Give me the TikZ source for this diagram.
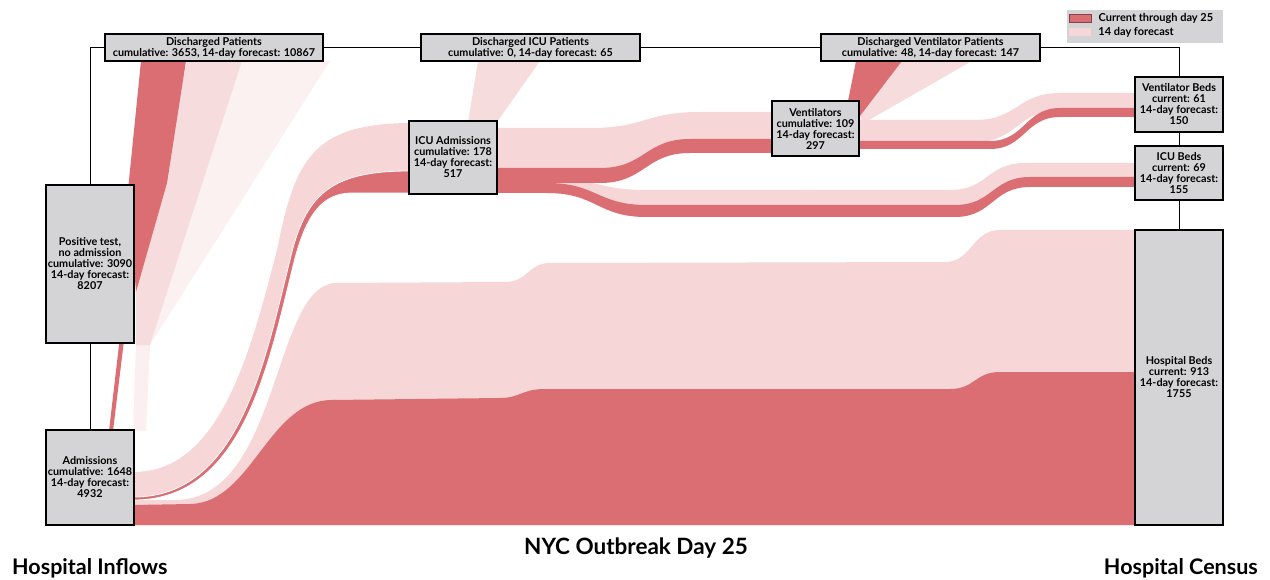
\documentclass[tikz,border=0pt]{standalone}
\usepackage{fontspec}
\setmainfont{Lato}
\usetikzlibrary{positioning,backgrounds}

\definecolor{curred}{RGB}{218,110,115}
\definecolor{fcpink}{RGB}{246,214,215}
\definecolor{boxgray}{RGB}{212,212,214}
\newcommand\lblfont{\fontsize{10.8}{11}\selectfont\bfseries}
\newcommand\legfont{\fontsize{11}{12}\selectfont\bfseries}
\newcommand\band[9]{%
  \fill[#1] (#2,#6) -- (#3,#6)
    .. controls ({(#3+#4)/2},#6) and ({(#3+#4)/2},#8) .. (#4,#8)
    -- (#5,#8) -- (#5,#9) -- (#4,#9)
    .. controls ({(#3+#4)/2},#9) and ({(#3+#4)/2},#7) .. (#3,#7)
    -- (#2,#7) -- cycle;}

\begin{document}
\begin{tikzpicture}[
    x=1pt, y=-1pt,
    box/.style={draw, line width=1.2pt, fill=boxgray, align=center, inner sep=0pt, font=\lblfont},
    cur/.style={fill=curred},
    fc/.style={fill=fcpink},
    link/.style={line width=1pt},
    swatch/.style={minimum width=22, minimum height=8, inner sep=0pt},
    legtext/.style={font=\legfont, inner sep=0pt, anchor=west},
    bigtitle/.style={font=\fontsize{22.5}{25}\selectfont\bfseries, inner sep=0pt},
    sidetitle/.style={font=\fontsize{21.5}{24}\selectfont\bfseries, inner sep=0pt},
]
\useasboundingbox (0,0) rectangle (1270,580);

\node[box, minimum width=88, minimum height=95] (adm) at (90,477.5) {Admissions\\cumulative: 1648\\14-day forecast:\\4932};
\node[box, minimum width=88, minimum height=158] (pos) at (90,264) {Positive test,\\no admission\\cumulative: 3090\\14-day forecast:\\8207};
\node[box, minimum width=218, minimum height=27] (dp) at (214,47.5) {Discharged Patients\\cumulative: 3653, 14-day forecast: 10867};
\node[box, minimum width=219, minimum height=27] (dicu) at (530.5,47.5) {Discharged ICU Patients\\cumulative: 0, 14-day forecast: 65};
\node[box, minimum width=219, minimum height=27] (dvp) at (930.5,47.5) {Discharged Ventilator Patients\\cumulative: 48, 14-day forecast: 147};
\node[box, minimum width=88, minimum height=73] (icu) at (453,157.5) {ICU Admissions\\cumulative: 178\\14-day forecast:\\517};
\node[box, minimum width=87, minimum height=55] (vent) at (815.5,128.5) {Ventilators\\cumulative: 109\\14-day forecast:\\297};
\node[box, minimum width=88, minimum height=55] (vbed) at (1179,104.5) {Ventilator Beds\\current: 61\\14-day forecast:\\150};
\node[box, minimum width=88, minimum height=54] (ibed) at (1179,173) {ICU Beds\\current: 69\\14-day forecast:\\155};
\node[box, minimum width=88, minimum height=295] (hbed) at (1179,377.5) {Hospital Beds\\current: 913\\14-day forecast:\\1755};

\node[fill=boxgray, minimum width=156, minimum height=33, inner sep=0pt] (legend) at (1145,26.5) {};
\node[swatch, fill=curred, draw=curred!60!black, line width=0.8pt] (swcur) at (1080,18) {};
\node[swatch, fill=fcpink] (swfc) at (1080,32) {};
\node[legtext, right=7pt of swcur] (lgcur) {Current through day 25};
\node[legtext, right=7pt of swfc] (lgfc) {14 day forecast};

\draw[link] (pos) -- (adm);
\draw[link] (pos.north) |- (dp.west);
\draw[link] (dp) -- (dicu);
\draw[link] (dicu) -- (dvp);
\draw[link] (dvp.east) -| (vbed.north);
\draw[link] (vbed) -- (ibed);
\draw[link] (ibed) -- (hbed);

\node[bigtitle, anchor=base] (daytitle) at (636,554) {NYC Outbreak Day 25};
\node[sidetitle, anchor=base west] (inflows) at (12,574) {Hospital Inflows};
\node[sidetitle, anchor=base east] (census) at (1258,574) {Hospital Census};

\begin{scope}[on background layer]
    \fill[fc] (134,500) -- (175,500) .. controls (280,500) and (272,287) .. (335,283) -- (505,282) .. controls (528,282) and (528,263) .. (550,263) -- (945,262) .. controls (972,262) and (972,230) .. (1000,230) -- (1135,230) -- (1135,525) -- (134,525) -- cycle;
    \fill[cur] (134,505) -- (190,504) .. controls (252,503) and (268,400) .. (332,400) -- (500,398) .. controls (520,398) and (522,389) .. (545,389) -- (950,389) .. controls (975,389) and (975,372) .. (1000,372) -- (1135,372) -- (1135,525) -- (134,525) -- cycle;
    \fill[fc] (134,472) .. controls (222,472) and (252,345) .. (277,250) .. controls (295,160) and (312,124) .. (409,123) -- (409,171) .. controls (330,171) and (305,195) .. (290,260) .. controls (265,360) and (240,497) .. (134,497) -- cycle;
    \fill[cur, draw=white, line width=0.8pt] (134,497) .. controls (240,497) and (265,360) .. (290,260) .. controls (305,195) and (330,171) .. (409,171) -- (409,193) -- (352,193) .. controls (322,193) and (306,215) .. (294,262) .. controls (269,362) and (244,500) .. (134,500) -- cycle;

    \fill[fc, opacity=0.35] (242,61) -- (330,61) -- (150,345) -- cycle;
    \fill[fc, opacity=0.85] (187,61) -- (242,61) -- (150,345) -- (136,345) -- (136,292) -- cycle;
    \fill[fc, opacity=0.4] (136,345) -- (150,345) -- (146,431) -- (133,431) -- cycle;
    \fill[cur] (141,61) -- (186,61) -- (167,183) -- (136,292) -- (128,190) -- cycle;
    \fill[cur] (109,431) -- (113,431) -- (158,61) -- (152,61) -- cycle;

    \fill[fc, opacity=0.85] (478,61) -- (540,61) -- (497,122) -- (468,122) -- cycle;

    \band{fc}{497}{590}{700}{772}{128}{170}{112}{140}
    \band{fc}{497}{547}{647}{800}{178}{193}{190}{217}
    \band{fc}{800}{950}{1025}{1135}{190}{217}{163}{187}
    \band{cur}{497}{600}{690}{772}{168}{183}{139}{153}
    \band{cur}{497}{547}{647}{800}{183}{193}{205}{217}
    \band{cur}{800}{955}{1030}{1135}{205}{217}{177}{187}

    \fill[fc, opacity=0.85] (902,61) -- (972,61) -- (862,124) -- (860,116) -- cycle;
    \fill[cur] (856,61) -- (902,61) -- (860,116) -- (848,101) -- cycle;
    \band{fc}{859}{975}{1060}{1135}{120}{142}{93}{110}
    \band{cur}{859}{990}{1060}{1135}{141}{149}{108}{117}
\end{scope}
\end{tikzpicture}
\end{document}
